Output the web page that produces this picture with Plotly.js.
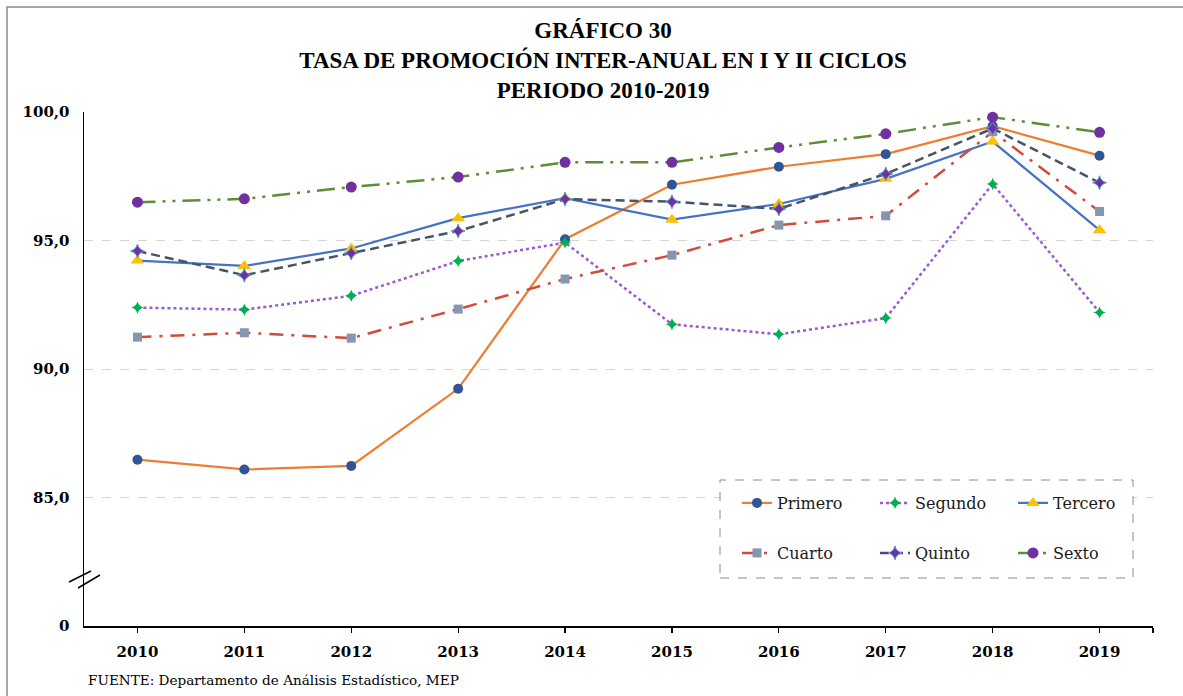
<!DOCTYPE html>
<html>
<head>
<meta charset="utf-8">
<script src="https://cdn.plot.ly/plotly-3.0.1.min.js"></script>
<style>html,body{margin:0;padding:0;background:#fff;}#chart{width:1183px;height:696px;}</style>
</head>
<body>
<div id="chart"></div>
<script>
// ---- data ----
const years = [2010, 2011, 2012, 2013, 2014, 2015, 2016, 2017, 2018, 2019];
const yearLabels = ["2010", "2011", "2012", "2013", "2014", "2015", "2016", "2017", "2018", "2019"];
const primero = [86.47, 86.09, 86.23, 89.23, 95.05, 97.17, 97.87, 98.36, 99.45, 98.30];
const segundo = [92.39, 92.31, 92.85, 94.20, 94.92, 91.74, 91.35, 91.98, 97.20, 92.20];
const tercero = [94.22, 94.01, 94.69, 95.87, 96.65, 95.81, 96.42, 97.40, 98.85, 95.40];
const cuarto  = [91.24, 91.41, 91.20, 92.33, 93.50, 94.43, 95.60, 95.96, 99.23, 96.13];
const quinto  = [94.59, 93.65, 94.51, 95.37, 96.61, 96.51, 96.23, 97.59, 99.36, 97.25];
const sexto   = [96.49, 96.62, 97.08, 97.47, 98.04, 98.04, 98.62, 99.15, 99.80, 99.21];
const yTickVals = [80, 85, 90, 95, 100];
const yTickText = ["0", "85,0", "90,0", "95,0", "100,0"];
const seriesNames = ["Primero", "Segundo", "Tercero", "Cuarto", "Quinto", "Sexto"];

// ---- geometry helpers (plot area in pixels) ----
const W = 1183, H = 696;
const L = 84, R = 1153, T = 112, B = 626;
const px = x => (x - L) / (R - L);
const py = y => (B - y) / (B - T);

const tickFont = {family: "DejaVu Serif", size: 15, color: "#000", weight: "bold"};
const legFont = {family: "DejaVu Serif", size: 16, color: "#1a1a1a"};

function tr(y, name, line, marker, legend) {
  return {
    type: "scatter", mode: "lines+markers", x: years, y: y, name: name,
    line: line, marker: marker, cliponaxis: false, legend: legend, hoverinfo: "x+y+name"
  };
}

const data = [
  tr(primero, seriesNames[0], {color: "#ED7D31", width: 2.25},
     {symbol: "circle", size: 10, color: "#2F5597"}, "legend"),
  tr(segundo, seriesNames[1], {color: "#9B59D0", width: 2.5, dash: "dot"},
     {symbol: "star-diamond", size: 9, color: "#00B050"}, "legend"),
  tr(tercero, seriesNames[2], {color: "#4472C4", width: 2.25},
     {symbol: "triangle-up", size: 12, color: "#FFC000"}, "legend"),
  tr(cuarto, seriesNames[3], {color: "#D24B3A", width: 2.5, dash: "14px,8px,3px,8px"},
     {symbol: "square", size: 9, color: "#8497B0"}, "legend2"),
  tr(quinto, seriesNames[4], {color: "#44546A", width: 2.5, dash: "9px,5px"},
     {symbol: "star-diamond", size: 10, color: "#7030A0", line: {color: "#5B9BD5", width: 1}}, "legend2"),
  tr(sexto, seriesNames[5], {color: "#5A8F35", width: 2.5, dash: "18px,7px,3px,7px,3px,7px"},
     {symbol: "circle", size: 11, color: "#7030A0"}, "legend2")
];

const legendCommon = {
  orientation: "h", bgcolor: "rgba(0,0,0,0)", borderwidth: 0, font: legFont,
  entrywidth: 93, entrywidthmode: "pixels", xanchor: "left", yanchor: "middle",
  itemclick: false, itemdoubleclick: false, tracegroupgap: 0
};

const layout = {
  width: W, height: H,
  margin: {l: L, r: W - R, t: T, b: H - B, pad: 0},
  paper_bgcolor: "#fff", plot_bgcolor: "#fff",
  showlegend: true,
  title: {
    text: "GRÁFICO 30<br>TASA DE PROMOCIÓN INTER-ANUAL EN I Y II CICLOS<br>PERIODO 2010-2019",
    font: {family: "Liberation Serif", size: 23, color: "#000", weight: "bold"},
    xref: "paper", x: px(603), xanchor: "center",
    yref: "container", y: 1 - 38 / H, yanchor: "top"
  },
  xaxis: {
    type: "linear", range: [2009.5, 2019.5],
    tickvals: years.concat([2019.5]), ticktext: yearLabels.concat([""]),
    ticks: "outside", ticklen: 5, tickwidth: 1.2, tickcolor: "#000",
    showline: true, linecolor: "#000", linewidth: 1.5,
    showgrid: false, zeroline: false, tickfont: tickFont, ticklabelstandoff: 6,
    fixedrange: true
  },
  yaxis: {
    range: [80, 100], tickvals: yTickVals, ticktext: yTickText,
    ticks: "", showline: true, linecolor: "#000", linewidth: 1.5,
    showgrid: true, gridcolor: "#d4d4d4", griddash: "dash", gridwidth: 1,
    zeroline: false, tickfont: tickFont, ticklabelstandoff: 10, fixedrange: true
  },
  legend: Object.assign({}, legendCommon, {x: px(737), y: py(503)}),
  legend2: Object.assign({}, legendCommon, {x: px(737), y: py(553)}),
  shapes: [
    // outer frame
    {type: "rect", xref: "paper", yref: "paper", x0: px(7), x1: px(1200), y0: py(720), y1: py(7),
     line: {color: "#8c8c8c", width: 1.5}, fillcolor: "rgba(0,0,0,0)", layer: "below"},
    // legend box
    {type: "rect", xref: "paper", yref: "paper", x0: px(720), x1: px(1133), y0: py(578), y1: py(480),
     line: {color: "#8c8c8c", width: 1, dash: "dash"}, fillcolor: "#fff", layer: "above"},
    // axis break marks
    {type: "line", xref: "paper", yref: "paper", x0: px(69), y0: py(582), x1: px(91), y1: py(571),
     line: {color: "#000", width: 1.5}},
    {type: "line", xref: "paper", yref: "paper", x0: px(78), y0: py(588), x1: px(100), y1: py(575),
     line: {color: "#000", width: 1.5}}
  ],
  annotations: [
    {text: "FUENTE: Departamento de Análisis Estadístico, MEP", xref: "paper", yref: "paper",
     x: px(86), y: py(680), xanchor: "left", yanchor: "middle", showarrow: false,
     font: {family: "DejaVu Serif", size: 13.6, color: "#000"}}
  ]
};

Plotly.newPlot("chart", data, layout, {displayModeBar: false, staticPlot: true});
</script>
</body>
</html>
